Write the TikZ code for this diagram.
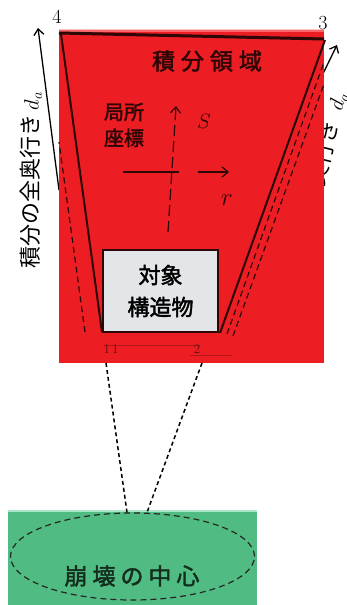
\documentclass[tikz,border=0pt]{standalone}
\usepackage{fontspec}
\newfontfamily\jp{Noto Sans CJK JP}
\newfontfamily\jpb[FakeBold=2]{Noto Sans CJK JP}
\usetikzlibrary{arrows.meta,shapes.geometric}
\definecolor{bgred}{RGB}{236,30,36}
\definecolor{dk}{RGB}{45,6,6}
\definecolor{grn}{RGB}{80,188,132}
\definecolor{grnl}{RGB}{170,230,200}
\definecolor{boxg}{RGB}{226,230,232}
\definecolor{txg}{RGB}{20,45,28}
\tikzset{
  lbl/.style={inner sep=0pt, font=\jp\fontsize{22}{22}\selectfont},
  axis/.style={dk, line width=1.2pt},
  tipa/.style={-{Straight Barb[length=6pt,width=10pt]}},
  conn/.style={black, line width=1.5pt, dash pattern=on 4pt off 3pt},
  edge/.style={dk, line width=2pt},
  dedge/.style={dk, line width=1.2pt, dash pattern=on 6pt off 4pt},
}
\begin{document}
\begin{tikzpicture}[x=1pt,y=-1pt]
\useasboundingbox (0,0) rectangle (347,605);
% labels outside
\node[lbl, rotate=90] (ldepth) at (31,180) {積分の全奥行き\,$d_a$};
\node[lbl, rotate=76, anchor=east] (rdepth) at (339,92) {積分の全奥行き\hspace{12pt}$d_a$};
\coordinate (la0) at (59,190);
\coordinate (la1) at (38,28);
\draw[black, line width=1.3pt, tipa] (la0) -- (la1);
\coordinate (ra0) at (318,84);
\coordinate (ra1) at (337,45);
\draw[black, line width=1.3pt, tipa] (ra0) -- (ra1);
% red region
\fill[bgred] (59,30) rectangle (324,363);
\fill[red!40!white, opacity=0.6] (59,29) rectangle (324,32);
\draw[dk, line width=3pt] (59,33) -- (324,39);
% trapezoid sides
\draw[edge] (61,34) -- (102,332);
\draw[dedge] (85,332) -- (59,142);
\draw[edge] (325,40) -- (220,333);
\draw[dedge] (227,334) -- (324,62);
\draw[dedge] (233,336) -- (324,84);
% text
\node[inner sep=0pt, dk, font=\jpb\fontsize{23}{23}\selectfont] (title) at (207,61) {積\hspace{6pt}分\hspace{6pt}領\hspace{6pt}域};
\node[inner sep=0pt, dk, align=center, font=\jpb\fontsize{20}{26}\selectfont] (loc) at (124,125) {局所\\座標};
\node[inner sep=0pt, dk, font=\fontsize{22}{22}\selectfont] (s) at (204,121) {$S$};
\node[inner sep=0pt, dk, font=\fontsize{26}{26}\selectfont] (r) at (227,200) {$r$};
\draw[axis, dash pattern=on 11pt off 5pt, tipa] (168,232) -- (176,106);
\draw[axis] (123,172) -- (179,172);
\draw[axis, tipa] (198,172) -- (229,172);
% target structure box
\node[draw=dk, line width=1.8pt, fill=boxg, minimum width=115pt, minimum height=82pt, inner sep=0pt, align=center,
      font=\jpb\fontsize{22}{32}\selectfont] (box) at (160.5,291) {対象\\構造物};
% corner marks
\node[inner sep=0pt, dk, opacity=0.7, font=\fontsize{13}{13}\selectfont] (c1) at (111,349) {1\,1};
\node[inner sep=0pt, dk, opacity=0.7, font=\fontsize{13}{13}\selectfont] (c2) at (197,349) {2};
\draw[dk, opacity=0.3, line width=1pt] (104,345) -- (200,345);
\draw[dk, opacity=0.3, line width=1pt] (190,355) -- (232,355);
\node[inner sep=0pt, font=\fontsize{20}{20}\selectfont] (n4) at (57,17) {4};
\node[inner sep=0pt, font=\fontsize{20}{20}\selectfont] (n3) at (323,23) {3};
% green region
\fill[grn] (8,510) rectangle (257,605);
\fill[grnl] (8,510) rectangle (257,512);
\node[ellipse, draw=black!85, line width=1.2pt, dash pattern=on 6pt off 4pt, minimum width=244pt, minimum height=87pt, inner sep=0pt] (ell) at (132.5,556.5) {};
\node[inner sep=0pt, txg, font=\jpb\fontsize{23}{23}\selectfont] (ctr) at (132,576) {崩\hspace{5pt}壊\hspace{5pt}の\hspace{5pt}中\hspace{5pt}心};
% connectors
\coordinate (p1) at (106,363);
\coordinate (p2) at (202,363);
\draw[conn] (p1) -- (ell.north -| 127,0);
\draw[conn] (p2) -- (ell.north -| 147,0);
\end{tikzpicture}
\end{document}
